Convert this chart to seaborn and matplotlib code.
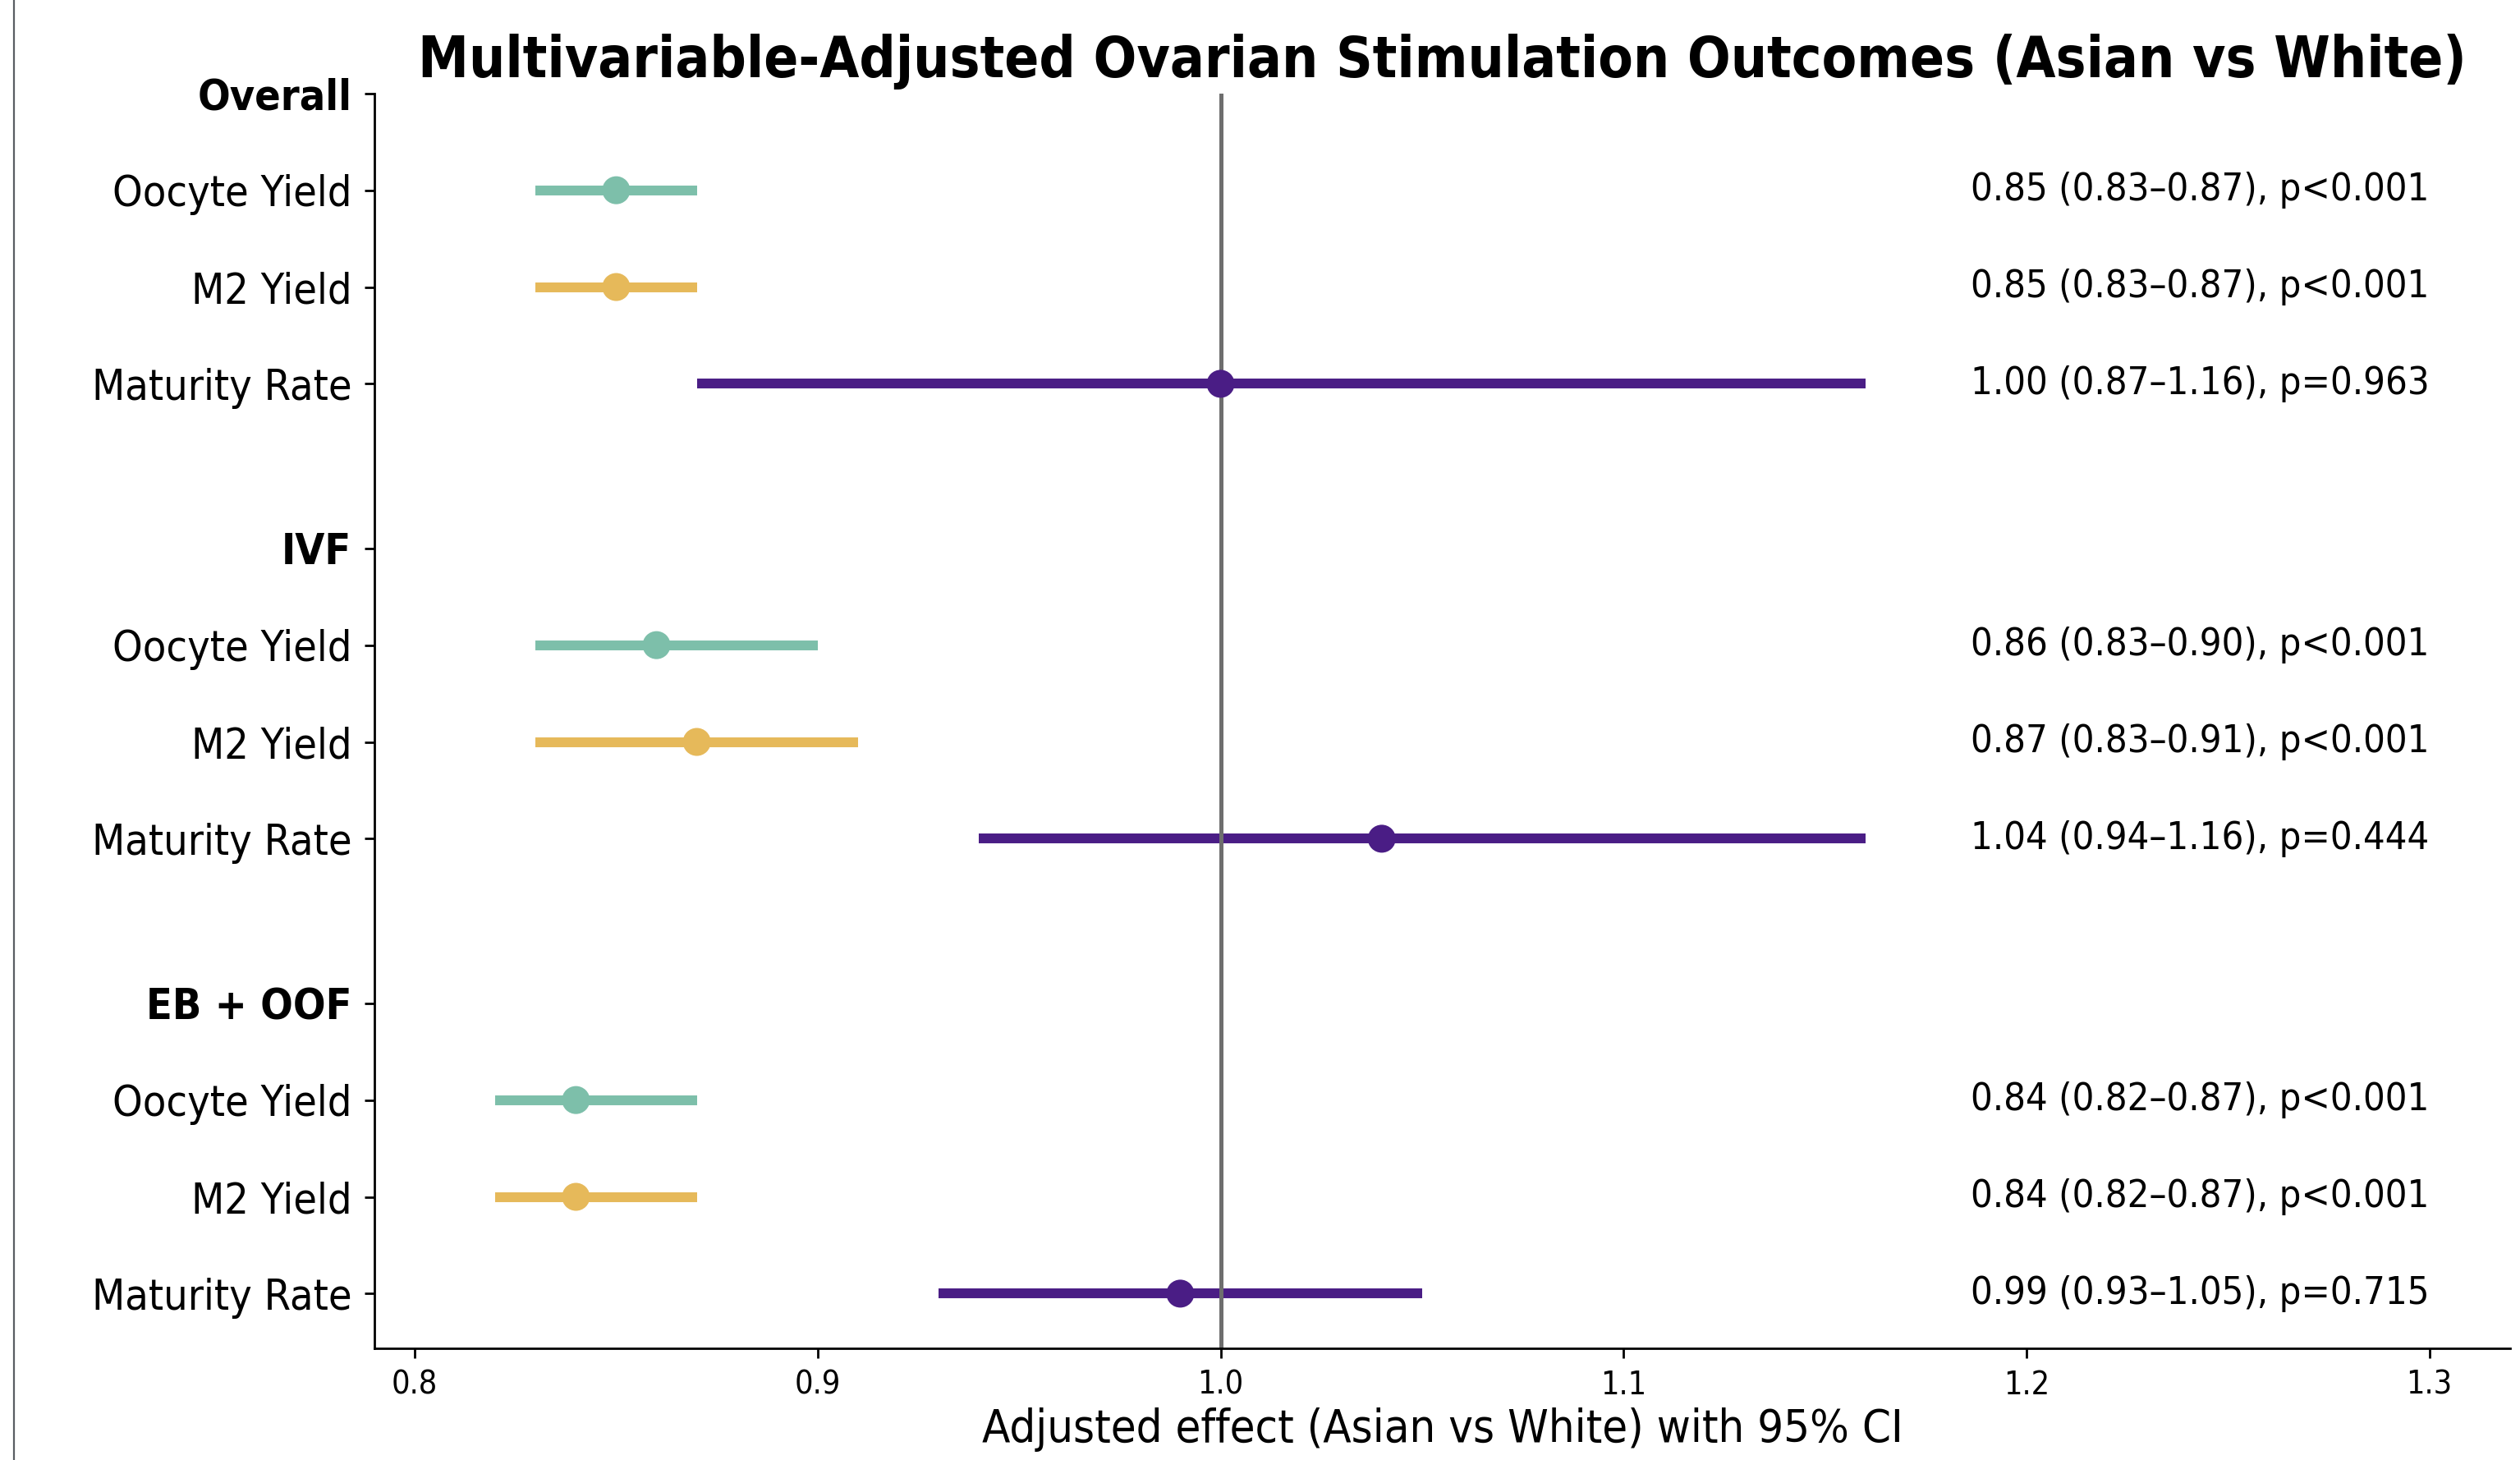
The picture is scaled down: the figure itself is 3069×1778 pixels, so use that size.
import numpy as np
import pandas as pd
import matplotlib.pyplot as plt
import seaborn as sns
from matplotlib.lines import Line2D

# ------------------------------
# Data
# ------------------------------
groups = ['Overall', 'IVF', 'EB + OOF']
outcomes = ['Oocyte Yield', 'M2 Yield', 'Maturity Rate']
estimates = [0.85, 0.85, 1.00, 0.86, 0.87, 1.04, 0.84, 0.84, 0.99]
ci_low = [0.83, 0.83, 0.87, 0.83, 0.83, 0.94, 0.82, 0.82, 0.93]
ci_high = [0.87, 0.87, 1.16, 0.90, 0.91, 1.16, 0.87, 0.87, 1.05]
p_labels = ['p<0.001', 'p<0.001', 'p=0.963',
            'p<0.001', 'p<0.001', 'p=0.444',
            'p<0.001', 'p<0.001', 'p=0.715']
x_ticks = [0.8, 0.9, 1.0, 1.1, 1.2, 1.3]

colors = {'Oocyte Yield': '#7dbfaa', 'M2 Yield': '#e6b95a', 'Maturity Rate': '#4a1d85'}

# ------------------------------
# Build table with row positions
# ------------------------------
group_gap = 4.7
rows = []
i = 0
for g, grp in enumerate(groups):
    for k, out in enumerate(outcomes):
        rows.append({'group': grp, 'outcome': out, 'est': estimates[i],
                     'lo': ci_low[i], 'hi': ci_high[i], 'p': p_labels[i],
                     'y': g * group_gap + k + 1})
        i += 1
df = pd.DataFrame(rows)

tick_pos, tick_lab, is_header = [], [], []
for g, grp in enumerate(groups):
    tick_pos.append(g * group_gap)
    tick_lab.append(grp)
    is_header.append(True)
    for k, out in enumerate(outcomes):
        tick_pos.append(g * group_gap + k + 1)
        tick_lab.append(out)
        is_header.append(False)

# ------------------------------
# Plot
# ------------------------------
sns.set_style('ticks')
plt.rcParams['font.family'] = ['DejaVu Sans']
plt.rcParams['font.stretch'] = 'condensed'
plt.rcParams['axes.linewidth'] = 1.0
for key in ['text.color', 'axes.labelcolor', 'xtick.color', 'ytick.color', 'axes.edgecolor']:
    plt.rcParams[key] = 'black'

fig, ax = plt.subplots(figsize=(15.345, 8.89), dpi=200)
fig.subplots_adjust(left=0.1486, right=0.996, bottom=0.0765, top=0.936)

ax.hlines(df['y'], df['lo'], df['hi'], colors=df['outcome'].map(colors), lw=4.3, zorder=2)
ax.axvline(1.0, color='#6e6e6e', lw=1.8, zorder=2.5)
sns.scatterplot(data=df, x='est', y='y', hue='outcome', palette=colors, s=150,
                edgecolor='none', legend=False, zorder=3, ax=ax)

for _, r in df.iterrows():
    ax.text(1.30, r['y'], f"{r['est']:.2f} ({r['lo']:.2f}\u2013{r['hi']:.2f}), {r['p']}",
            ha='right', va='center', fontsize=16.9)

ax.set_yticks(tick_pos)
ax.set_yticklabels(tick_lab, fontsize=18.7)
for lab, hdr in zip(ax.get_yticklabels(), is_header):
    if hdr:
        lab.set_fontweight('bold')
ax.set_ylim(tick_pos[-1] + 0.565, 0)

ax.set_xlim(0.79, 1.32)
ax.set_xticks(x_ticks)
ax.set_xticklabels([f'{v:.1f}' for v in x_ticks], fontsize=14.2)
ax.tick_params(axis='y', length=4.5, pad=5.5, width=1.0)
ax.tick_params(axis='x', length=4.3, pad=5, width=1.0)

ax.set_xlabel('Adjusted effect (Asian vs White) with 95% CI', fontsize=20.1, labelpad=3)
ax.set_ylabel('')
ax.set_title('Multivariable-Adjusted Ovarian Stimulation Outcomes (Asian vs White)',
             fontsize=24.9, fontweight='bold', pad=7)
sns.despine(ax=ax)

# thin border line at the far left of the picture
fig.add_artist(Line2D([0.0055, 0.0055], [0, 1], transform=fig.transFigure,
                      color='#5a5e63', lw=0.8))

fig.savefig('out.png', dpi=200)
plt.close(fig)
